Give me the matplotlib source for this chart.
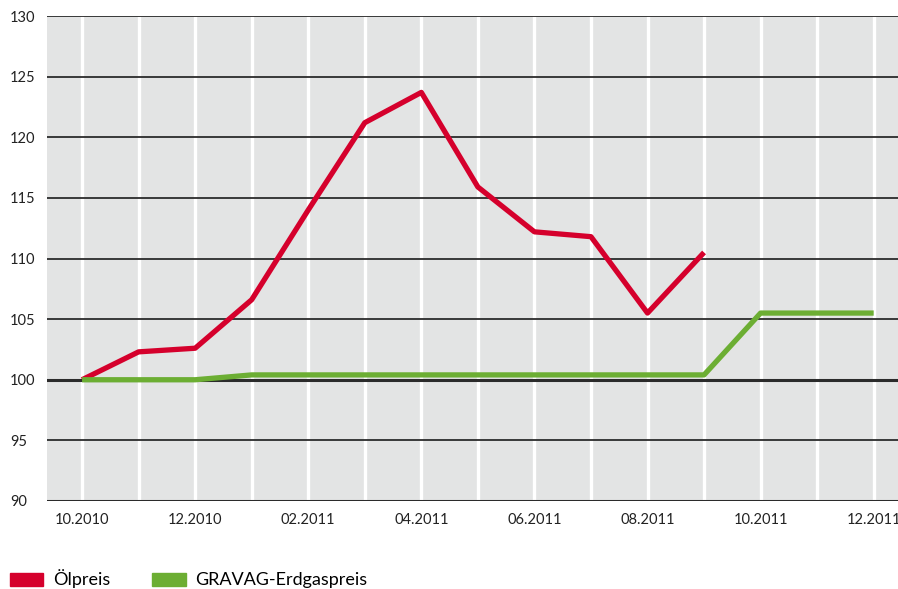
import matplotlib
matplotlib.use("Agg")
import matplotlib.pyplot as plt
from matplotlib.patches import Patch

plt.rcParams['font.family'] = ['Lato', 'DejaVu Sans']

months = ["10.2010", "11.2010", "12.2010", "01.2011", "02.2011", "03.2011", "04.2011",
          "05.2011", "06.2011", "07.2011", "08.2011", "09.2011", "10.2011", "11.2011",
          "12.2011"]
oel = [100, 102.3, 102.6, 106.6, 114.0, 121.2, 123.7, 115.9, 112.2, 111.8, 105.5, 110.5]
gas = [100, 100, 100, 100.4, 100.4, 100.4, 100.4, 100.4, 100.4, 100.4, 100.4, 100.4,
       105.5, 105.5, 105.5]
yticks = [90, 95, 100, 105, 110, 115, 120, 125, 130]

red = "#d5002c"
green = "#6cae33"

fig = plt.figure(figsize=(8.98, 5.89), dpi=100)
ax = fig.add_axes([47/898, 1-501/589, 1-47/898, 485/589])
ax.set_facecolor("#e3e4e4")

# white vertical month lines
for i in range(len(months)):
    ax.axvline(i, color="white", lw=2.4, zorder=1)
# horizontal grid
for v in yticks:
    lw = 2.2 if v in (90, 100) else 1.3
    ax.axhline(v, color="#2b2b2b", lw=lw, zorder=2)

ax.plot(range(len(oel)), oel, color=red, lw=3.8, solid_capstyle="butt", zorder=3)
ax.plot(range(len(gas)), gas, color=green, lw=3.8, solid_capstyle="butt", zorder=3)

ax.set_xlim(-0.62, 14.43)
ax.set_ylim(90, 130)
ax.set_xticks(range(0, len(months), 2))
ax.set_xticklabels(months[::2], fontsize=10.5, color="#222222")
ax.set_yticks(yticks)
ax.set_yticklabels([str(v) for v in yticks], fontsize=10.5, color="#222222", ha="left")
ax.tick_params(axis="y", length=0, pad=26.5)
ax.tick_params(axis="x", length=0, pad=9)
for s in ax.spines.values():
    s.set_visible(False)

handles = [Patch(color=red, label="Ölpreis"), Patch(color=green, label="GRAVAG-Erdgaspreis")]
fig.legend(handles=handles, loc="center left", bbox_to_anchor=(10/898, 1-579/589), ncol=2,
           frameon=False, fontsize=13, handlelength=1.85, handleheight=0.75,
           handletextpad=0.55, columnspacing=2.3, borderaxespad=0, borderpad=0)

fig.savefig("out.png", dpi=100)
